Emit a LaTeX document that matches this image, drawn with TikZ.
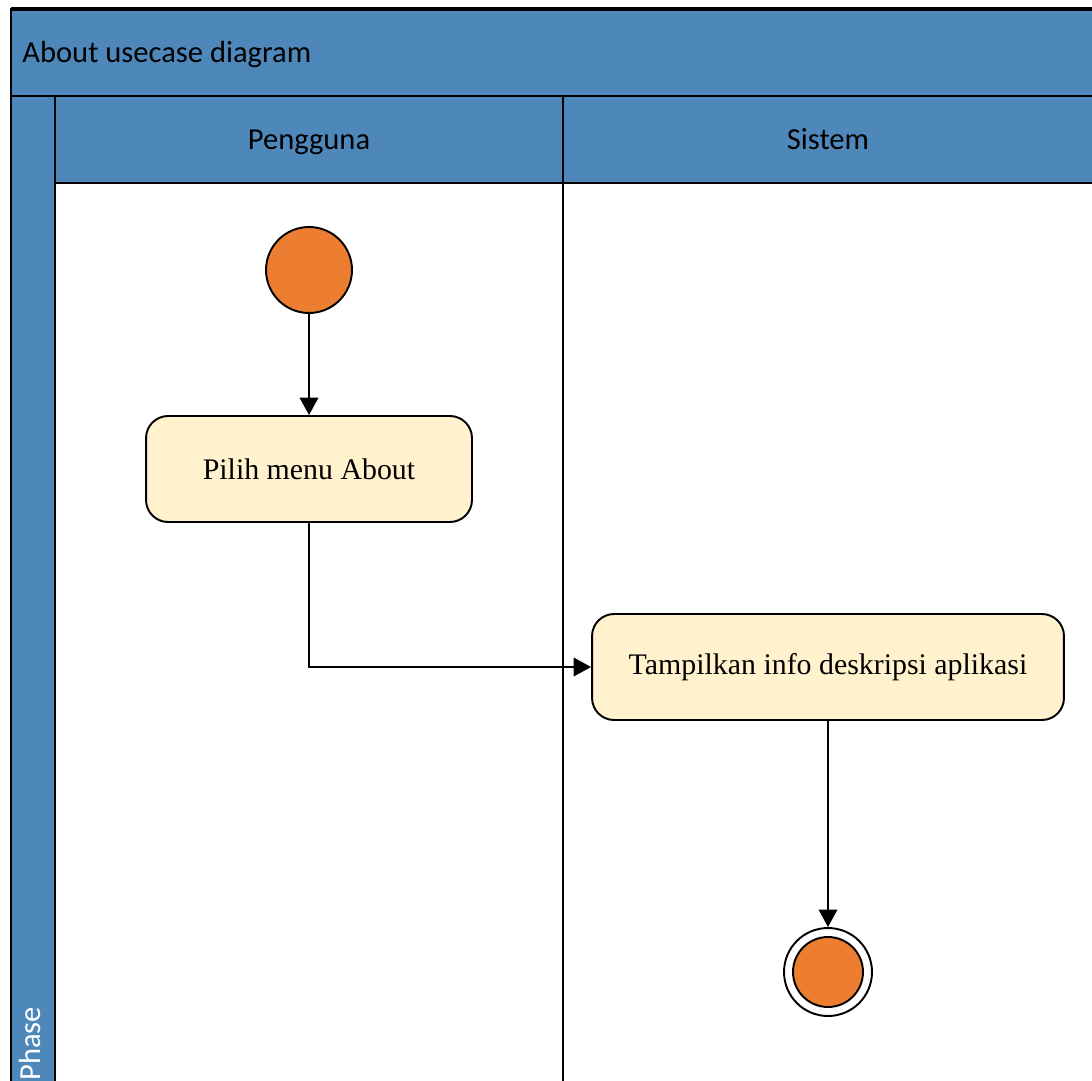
\documentclass[tikz,border=0pt]{standalone}
\usepackage{fontspec}
\setmainfont{Carlito}
\newfontfamily\actfont{Liberation Serif}
\usepackage{tikz}
\usetikzlibrary{arrows.meta, positioning}

\definecolor{laneblue}{HTML}{4E88BB}
\definecolor{nodeorange}{HTML}{ED7D31}
\definecolor{actfill}{HTML}{FFF2CC}

\begin{document}
\begin{tikzpicture}[x=0.02cm, y=-0.02cm,
                lanehead/.style={font=\fontsize{17.4}{20}\selectfont, inner sep=0pt,
                                 text height=0.7em, text depth=0.2em},
                action/.style={draw, line width=1.1pt, fill=actfill, rounded corners=0.44cm,
                               minimum height=2.12cm, align=center,
                               font=\actfont\fontsize{17}{20}\selectfont},
                startnode/.style={circle, draw, line width=1.1pt, fill=nodeorange, minimum size=1.72cm},
                flow/.style={-{Triangle[length=0.35cm, width=0.37cm]}, line width=1.3pt}]

                \clip (0,0) rectangle (1092,1081);

                % Swimlane frame
                \draw[fill=laneblue, line width=1.2pt] (11,9) rectangle (1110,96);
                \draw[line width=1.8pt] (11,9) -- (1110,9);
                \draw[fill=laneblue, line width=1.2pt] (11,96) rectangle (55,1110);
                \draw[fill=laneblue, line width=1.2pt] (55,96) rectangle (563,183);
                \draw[fill=laneblue, line width=1.2pt] (563,96) rectangle (1110,183);
                \draw[line width=1.1pt] (55,183) -- (55,1110);
                \draw[line width=1.1pt] (563,183) -- (563,1110);

                % Labels
                \node[lanehead, anchor=west] (title) at (22,58) {About usecase diagram};
                \node[lanehead] (pengguna) at (309,145) {Pengguna};
                \node[lanehead] (sistem) at (828,145) {Sistem};
                \node[lanehead, rotate=90, anchor=west, text=white] (phase) at (36,1081) {Phase};

                % Activity
                \node[startnode] (start) at (309,270) {};
                \node[action, minimum width=6.52cm] (pilih) at (309,469) {Pilih menu About};
                \node[action, minimum width=9.44cm] (tampil) at (828,667) {Tampilkan info deskripsi aplikasi};
                \node[circle, draw, line width=1.1pt, fill=white, minimum size=1.76cm] (end) at (828,972) {};
                \node[startnode, minimum size=1.4cm] (endfill) at (end) {};

                % Flow arrows
                \draw[flow] (start) -- (pilih);
                \draw[flow] (pilih.south) |- (tampil.west);
                \draw[flow] (tampil) -- (end);
            \end{tikzpicture}
\end{document}
